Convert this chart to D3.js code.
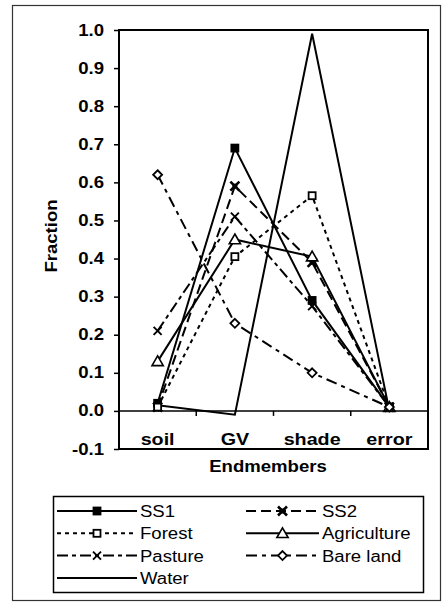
<!DOCTYPE html>
<html>
<head>
  <meta charset="utf-8">
  <script src="https://d3js.org/d3.v7.min.js"></script>
  <style>
    body { margin: 0; background: #fff; font-family: "Liberation Sans", Arial, sans-serif; }
  </style>
</head>
<body>
  <div id="chart"></div>
  <script>
    var categories = ["soil", "GV", "shade", "error"];
    var ss1 = [0.02, 0.69, 0.29, 0.01];
    var ss2 = [0.01, 0.59, 0.39, 0.01];
    var forest = [0.01, 0.405, 0.565, 0.01];
    var agriculture = [0.13, 0.45, 0.405, 0.01];
    var pasture = [0.21, 0.51, 0.275, 0.01];
    var bareLand = [0.62, 0.23, 0.10, 0.01];
    var water = [0.015, -0.01, 0.99, 0.0];
    var yTicks = [-0.1, 0.0, 0.1, 0.2, 0.3, 0.4, 0.5, 0.6, 0.7, 0.8, 0.9, 1.0];

    var series = [
      { name: "SS1", values: ss1, dash: null, marker: "square", fill: "#000" },
      { name: "SS2", values: ss2, dash: "10,5", marker: "star", fill: "#000" },
      { name: "Forest", values: forest, dash: "4,4", marker: "square", fill: "#fff" },
      { name: "Agriculture", values: agriculture, dash: null, marker: "triangle", fill: "#fff" },
      { name: "Pasture", values: pasture, dash: "11,4,4,4", marker: "x", fill: "none" },
      { name: "Bare land", values: bareLand, dash: "11,5,4,5", marker: "diamond", fill: "#fff" },
      { name: "Water", values: water, dash: null, marker: null, fill: "none" }
    ];

    var W = 448, H = 603;
    var svg = d3.select("#chart").append("svg").attr("width", W).attr("height", H);
    var FONT = "'Liberation Sans', Arial, sans-serif";
    var SX = 1.16; // the scanned text runs a bit wide

    // text helper: position + horizontal stretch
    function label(parent, tx, ty, str, size, weight, anchor, rotate) {
      return parent.append("text")
        .attr("transform", "translate(" + tx + "," + ty + ")" + (rotate ? " rotate(" + rotate + ")" : "") + " scale(" + SX + ",1)")
        .attr("text-anchor", anchor || "start")
        .style("font", (weight || "normal") + " " + size + "px " + FONT)
        .attr("fill", "#000")
        .text(str);
    }

    // outer frame
    svg.append("rect").attr("x", 12.5).attr("y", 5.5).attr("width", 428).attr("height", 595)
      .attr("fill", "#fff").attr("stroke", "#333").attr("stroke-width", 1.2);

    var pLeft = 119, pRight = 428, pTop = 30, pBottom = 449;

    var xBand = d3.scaleBand().domain(categories).range([pLeft, pRight]);
    var x = function (d) { return xBand(d) + xBand.bandwidth() / 2; };
    var y = d3.scaleLinear().domain([-0.1, 1.0]).range([pBottom, pTop]);

    // y axis
    var yAxis = svg.append("g")
      .attr("transform", "translate(" + pLeft + ",0)")
      .call(d3.axisLeft(y).tickValues(yTicks).tickFormat("").tickSize(5));
    yAxis.select(".domain").remove();
    yAxis.selectAll("line").attr("stroke", "#000").attr("stroke-width", 1.5);
    yTicks.forEach(v => label(svg, 104, y(v) + 5.5, v.toFixed(1), 16, "bold", "end"));

    // plot box
    svg.append("rect").attr("x", pLeft).attr("y", pTop).attr("width", pRight - pLeft).attr("height", pBottom - pTop)
      .attr("fill", "none").attr("stroke", "#000").attr("stroke-width", 2);

    // x axis at zero
    svg.append("line").attr("x1", pLeft).attr("x2", pRight).attr("y1", y(0)).attr("y2", y(0))
      .attr("stroke", "#000").attr("stroke-width", 1.5);
    svg.append("g").selectAll("line").data(categories.slice(1)).join("line")
      .attr("x1", d => xBand(d)).attr("x2", d => xBand(d))
      .attr("y1", y(0)).attr("y2", y(0) + 5)
      .attr("stroke", "#000").attr("stroke-width", 1.5);
    categories.forEach(c => label(svg, x(c), pBottom - 4, c, 17, "bold", "middle"));

    // axis titles
    label(svg, 57, 236, "Fraction", 16, "bold", "middle", -90);
    label(svg, 268, 472, "Endmembers", 16, "bold", "middle");

    function drawMarker(g, type, fill, cx, cy) {
      if (!type) return;
      if (type === "square") {
        g.append("rect").attr("x", cx - 3.5).attr("y", cy - 3.5).attr("width", 7).attr("height", 7)
          .attr("fill", fill).attr("stroke", "#000").attr("stroke-width", 1.8);
      } else if (type === "triangle") {
        g.append("path").attr("d", d3.symbol(d3.symbolTriangle, 55)())
          .attr("transform", "translate(" + cx + "," + (cy + 1) + ")")
          .attr("fill", fill).attr("stroke", "#000").attr("stroke-width", 1.6);
      } else if (type === "diamond") {
        g.append("path").attr("d", "M0,-4.5L4.5,0L0,4.5L-4.5,0Z")
          .attr("transform", "translate(" + cx + "," + cy + ")")
          .attr("fill", fill).attr("stroke", "#000").attr("stroke-width", 1.8);
      } else if (type === "x" || type === "star") {
        var s = type === "star" ? 4.5 : 4;
        g.append("path").attr("d", "M" + (-s) + "," + (-s) + "L" + s + "," + s + "M" + (-s) + "," + s + "L" + s + "," + (-s))
          .attr("transform", "translate(" + cx + "," + cy + ")")
          .attr("fill", "none").attr("stroke", "#000").attr("stroke-width", type === "star" ? 2.6 : 1.9);
        if (type === "star") {
          g.append("rect").attr("x", cx - 2.5).attr("y", cy - 2.5).attr("width", 5).attr("height", 5).attr("fill", "#000");
        }
      }
    }

    var line = d3.line().x((d, i) => x(categories[i])).y(d => y(d));

    var plot = svg.append("g");
    series.forEach(s => {
      plot.append("path").datum(s.values).attr("d", line)
        .attr("fill", "none").attr("stroke", "#000").attr("stroke-width", 2)
        .attr("stroke-dasharray", s.dash);
    });
    series.forEach(s => {
      var g = plot.append("g");
      s.values.forEach((v, i) => drawMarker(g, s.marker, s.fill, x(categories[i]), y(v)));
    });

    // legend
    var lg = svg.append("g");
    lg.append("rect").attr("x", 53.5).attr("y", 496.5).attr("width", 370).attr("height", 96)
      .attr("fill", "#fff").attr("stroke", "#000").attr("stroke-width", 1.5);
    series.forEach((s, i) => {
      var col = i % 2, row = Math.floor(i / 2);
      var x0 = col === 0 ? 57 : 246, x1 = col === 0 ? 137 : 319;
      var cy = 511 + row * 22.3;
      lg.append("line").attr("x1", x0).attr("x2", x1).attr("y1", cy).attr("y2", cy)
        .attr("stroke", "#000").attr("stroke-width", 2).attr("stroke-dasharray", s.dash);
      drawMarker(lg, s.marker, s.fill, (x0 + x1) / 2, cy);
      label(lg, x1 + 3, cy + 6, s.name, 16, "normal", "start");
    });
  </script>
</body>
</html>
